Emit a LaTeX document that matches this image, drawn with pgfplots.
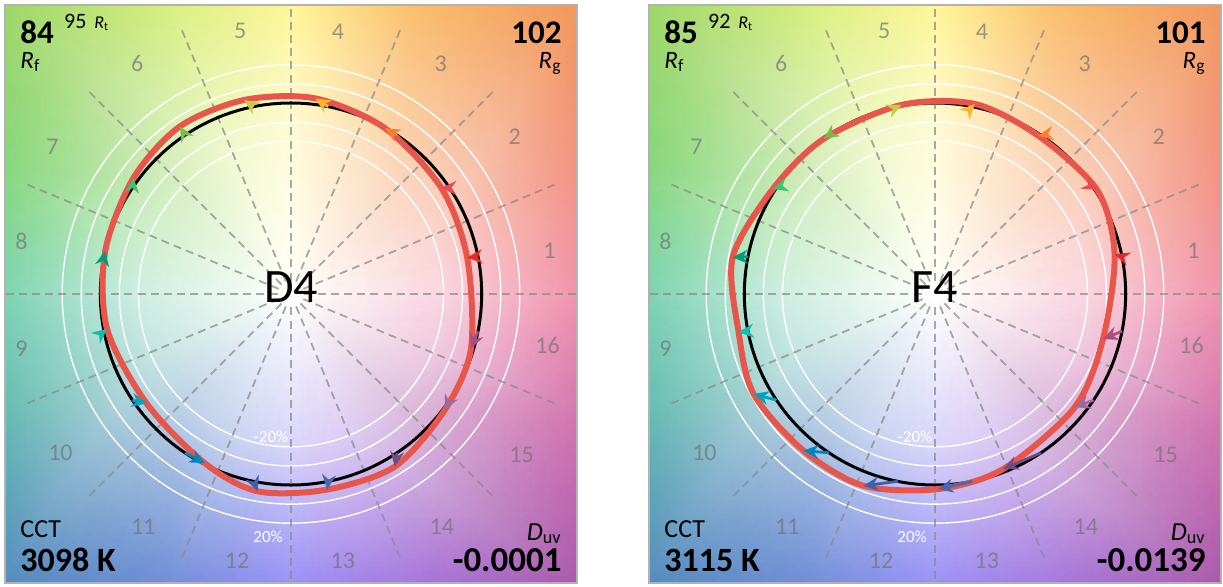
\documentclass[border=0pt]{standalone}
\usepackage{pgfplots}
\usepackage{pgfplotstable}
\pgfplotsset{compat=1.18}
\usetikzlibrary{arrows.meta}
\usepackage{fontspec}
\setmainfont{Carlito}

\definecolor{cw}{RGB}{255,255,252}
\definecolor{rb0}{RGB}{240,138,165}
\definecolor{rb1}{RGB}{242,138,122}
\definecolor{rb2}{RGB}{242,143,80}
\definecolor{rb3}{RGB}{250,188,100}
\definecolor{rb4}{RGB}{255,245,145}
\definecolor{rb5}{RGB}{215,238,120}
\definecolor{rb6}{RGB}{150,212,92}
\definecolor{rb7}{RGB}{125,212,118}
\definecolor{rb8}{RGB}{115,208,172}
\definecolor{rb9}{RGB}{90,182,172}
\definecolor{rb10}{RGB}{72,132,185}
\definecolor{rb11}{RGB}{105,135,215}
\definecolor{rb12}{RGB}{148,138,245}
\definecolor{rb13}{RGB}{160,112,220}
\definecolor{rb14}{RGB}{165,78,168}
\definecolor{rb15}{RGB}{210,108,170}
\colorlet{ra0}{rb0!36!white}
\colorlet{ra1}{rb1!36!white}
\colorlet{ra2}{rb2!36!white}
\colorlet{ra3}{rb3!36!white}
\colorlet{ra4}{rb4!36!white}
\colorlet{ra5}{rb5!36!white}
\colorlet{ra6}{rb6!36!white}
\colorlet{ra7}{rb7!36!white}
\colorlet{ra8}{rb8!36!white}
\colorlet{ra9}{rb9!36!white}
\colorlet{ra10}{rb10!36!white}
\colorlet{ra11}{rb11!36!white}
\colorlet{ra12}{rb12!36!white}
\colorlet{ra13}{rb13!36!white}
\colorlet{ra14}{rb14!36!white}
\colorlet{ra15}{rb15!36!white}

\definecolor{bin1}{HTML}{E62828}
\definecolor{bin2}{HTML}{E74B4B}
\definecolor{bin3}{HTML}{FB812E}
\definecolor{bin4}{HTML}{FFB529}
\definecolor{bin5}{HTML}{CBCA46}
\definecolor{bin6}{HTML}{7EB94C}
\definecolor{bin7}{HTML}{41C06D}
\definecolor{bin8}{HTML}{009C7C}
\definecolor{bin9}{HTML}{16BCB0}
\definecolor{bin10}{HTML}{00A4BF}
\definecolor{bin11}{HTML}{0085C3}
\definecolor{bin12}{HTML}{3B62AA}
\definecolor{bin13}{HTML}{4568AE}
\definecolor{bin14}{HTML}{6A4E85}
\definecolor{bin15}{HTML}{9D69A1}
\definecolor{bin16}{HTML}{A74F81}
\definecolor{testred}{RGB}{232,85,75}

\pgfplotstableread{
x y c
0 0 color=cw
0.8 0 color=ra0
0.7391 0.3061 color=ra1
0.8 0 color=ra0
0.7391 0.3061 color=ra1
1.6 0.6627 color=rb1
0.8 0 color=ra0
1.6 0.6627 color=rb1
1.6 0 color=rb0
0 0 color=cw
0.7391 0.3061 color=ra1
0.5657 0.5657 color=ra2
0.7391 0.3061 color=ra1
0.5657 0.5657 color=ra2
1.6 1.6 color=rb2
0.7391 0.3061 color=ra1
1.6 1.6 color=rb2
1.6 0.6627 color=rb1
0 0 color=cw
0.5657 0.5657 color=ra2
0.3061 0.7391 color=ra3
0.5657 0.5657 color=ra2
0.3061 0.7391 color=ra3
0.6627 1.6 color=rb3
0.5657 0.5657 color=ra2
0.6627 1.6 color=rb3
1.6 1.6 color=rb2
0 0 color=cw
0.3061 0.7391 color=ra3
0 0.8 color=ra4
0.3061 0.7391 color=ra3
0 0.8 color=ra4
0 1.6 color=rb4
0.3061 0.7391 color=ra3
0 1.6 color=rb4
0.6627 1.6 color=rb3
0 0 color=cw
0 0.8 color=ra4
-0.3061 0.7391 color=ra5
0 0.8 color=ra4
-0.3061 0.7391 color=ra5
-0.6627 1.6 color=rb5
0 0.8 color=ra4
-0.6627 1.6 color=rb5
0 1.6 color=rb4
0 0 color=cw
-0.3061 0.7391 color=ra5
-0.5657 0.5657 color=ra6
-0.3061 0.7391 color=ra5
-0.5657 0.5657 color=ra6
-1.6 1.6 color=rb6
-0.3061 0.7391 color=ra5
-1.6 1.6 color=rb6
-0.6627 1.6 color=rb5
0 0 color=cw
-0.5657 0.5657 color=ra6
-0.7391 0.3061 color=ra7
-0.5657 0.5657 color=ra6
-0.7391 0.3061 color=ra7
-1.6 0.6627 color=rb7
-0.5657 0.5657 color=ra6
-1.6 0.6627 color=rb7
-1.6 1.6 color=rb6
0 0 color=cw
-0.7391 0.3061 color=ra7
-0.8 0 color=ra8
-0.7391 0.3061 color=ra7
-0.8 0 color=ra8
-1.6 0 color=rb8
-0.7391 0.3061 color=ra7
-1.6 0 color=rb8
-1.6 0.6627 color=rb7
0 0 color=cw
-0.8 0 color=ra8
-0.7391 -0.3061 color=ra9
-0.8 0 color=ra8
-0.7391 -0.3061 color=ra9
-1.6 -0.6627 color=rb9
-0.8 0 color=ra8
-1.6 -0.6627 color=rb9
-1.6 0 color=rb8
0 0 color=cw
-0.7391 -0.3061 color=ra9
-0.5657 -0.5657 color=ra10
-0.7391 -0.3061 color=ra9
-0.5657 -0.5657 color=ra10
-1.6 -1.6 color=rb10
-0.7391 -0.3061 color=ra9
-1.6 -1.6 color=rb10
-1.6 -0.6627 color=rb9
0 0 color=cw
-0.5657 -0.5657 color=ra10
-0.3061 -0.7391 color=ra11
-0.5657 -0.5657 color=ra10
-0.3061 -0.7391 color=ra11
-0.6627 -1.6 color=rb11
-0.5657 -0.5657 color=ra10
-0.6627 -1.6 color=rb11
-1.6 -1.6 color=rb10
0 0 color=cw
-0.3061 -0.7391 color=ra11
0 -0.8 color=ra12
-0.3061 -0.7391 color=ra11
0 -0.8 color=ra12
0 -1.6 color=rb12
-0.3061 -0.7391 color=ra11
0 -1.6 color=rb12
-0.6627 -1.6 color=rb11
0 0 color=cw
0 -0.8 color=ra12
0.3061 -0.7391 color=ra13
0 -0.8 color=ra12
0.3061 -0.7391 color=ra13
0.6627 -1.6 color=rb13
0 -0.8 color=ra12
0.6627 -1.6 color=rb13
0 -1.6 color=rb12
0 0 color=cw
0.3061 -0.7391 color=ra13
0.5657 -0.5657 color=ra14
0.3061 -0.7391 color=ra13
0.5657 -0.5657 color=ra14
1.6 -1.6 color=rb14
0.3061 -0.7391 color=ra13
1.6 -1.6 color=rb14
0.6627 -1.6 color=rb13
0 0 color=cw
0.5657 -0.5657 color=ra14
0.7391 -0.3061 color=ra15
0.5657 -0.5657 color=ra14
0.7391 -0.3061 color=ra15
1.6 -0.6627 color=rb15
0.5657 -0.5657 color=ra14
1.6 -0.6627 color=rb15
1.6 -1.6 color=rb14
0 0 color=cw
0.7391 -0.3061 color=ra15
0.8 0 color=ra0
0.7391 -0.3061 color=ra15
0.8 0 color=ra0
1.6 0 color=rb0
0.7391 -0.3061 color=ra15
1.6 0 color=rb0
1.6 -0.6627 color=rb15
}\bgtable

\pgfplotsset{
  tmpanel/.style={
    scale only axis, width=286pt, height=289pt,
    xmin=-1.5, xmax=1.5, ymin=-1.513, ymax=1.513,
    ticks=none, axis line style={draw=black!30, line width=0.6pt},
    axis on top, anchor=center,
  },
}
\tikzset{
  binlbl/.style={text=black!55, text opacity=0.7, font={\fontsize{12}{12}\selectfont}},
  pct/.style={text=white, font={\fontsize{8.5}{9}\selectfont}},
  ct/.style={inner sep=0pt, outer sep=0pt},
}

\newcommand{\panelbase}{%
  \addplot[patch, shader=interp, mesh/color input=explicit] table[meta=c] {\bgtable};
  \draw[white, line width=0.7pt] (axis cs:0,0) circle[radius=0.8];
  \draw[white, line width=0.7pt] (axis cs:0,0) circle[radius=0.9];
  \draw[white, line width=0.7pt] (axis cs:0,0) circle[radius=1.1];
  \draw[white, line width=0.7pt] (axis cs:0,0) circle[radius=1.2];
  \pgfplotsinvokeforeach{0,...,15}{%
    \draw[black!45, opacity=0.75, line width=0.9pt, dash pattern=on 4pt off 2.6pt]
      (axis cs:{0.07*cos(22.5*##1)},{0.07*sin(22.5*##1)}) -- (axis cs:{1.5*cos(22.5*##1)},{1.5*sin(22.5*##1)});
  }
  \node[binlbl] at (axis cs:1.356,0.225) {1};
  \node[binlbl] at (axis cs:1.173,0.822) {2};
  \node[binlbl] at (axis cs:0.785,1.204) {3};
  \node[binlbl] at (axis cs:0.246,1.372) {4};
  \node[binlbl] at (axis cs:-0.267,1.377) {5};
  \node[binlbl] at (axis cs:-0.806,1.209) {6};
  \node[binlbl] at (axis cs:-1.251,0.770) {7};
  \node[binlbl] at (axis cs:-1.414,0.277) {8};
  \node[binlbl] at (axis cs:-1.414,-0.288) {9};
  \node[binlbl] at (axis cs:-1.209,-0.832) {10};
  \node[binlbl] at (axis cs:-0.775,-1.220) {11};
  \node[binlbl] at (axis cs:-0.283,-1.398) {12};
  \node[binlbl] at (axis cs:0.272,-1.398) {13};
  \node[binlbl] at (axis cs:0.791,-1.220) {14};
  \node[binlbl] at (axis cs:1.209,-0.843) {15};
  \node[binlbl] at (axis cs:1.346,-0.267) {16};
  \node[pct] at (axis cs:-0.105,-0.749) {-20\%};
  \node[pct] at (axis cs:-0.12,-1.272) {20\%};
  \draw[black, line width=1.5pt] (axis cs:0,0) circle[radius=1];
}

\newcommand{\binarrow}[5]{%
  \addplot[draw=#1, line width=1.4pt, -{Stealth[length=7.5pt,width=7pt]}] coordinates {(#2,#3) (#4,#5)};%
}

\newcommand{\cornertext}[6]{%
  \node[ct, anchor=base west, font={\fontsize{16.5}{17}\selectfont\bfseries}] at (axis cs:-1.419,1.314) {#1};
  \node[ct, anchor=base west, font={\fontsize{11}{11}\selectfont}] at (axis cs:-1.19,1.388) {#2\hspace{4pt}{\fontsize{9}{9}\selectfont\textit{R}\textsubscript{t}}};
  \node[ct, anchor=base west, font={\fontsize{12.5}{13}\selectfont}] at (axis cs:-1.419,1.183) {\textit{R}\textsubscript{f}};
  \node[ct, anchor=base east, font={\fontsize{16.5}{17}\selectfont\bfseries}] at (axis cs:1.419,1.314) {#3};
  \node[ct, anchor=base east, font={\fontsize{12.5}{13}\selectfont}] at (axis cs:1.419,1.183) {\textit{R}\textsubscript{g}};
  \node[ct, anchor=base west, font={\fontsize{13}{13}\selectfont}] at (axis cs:-1.419,-1.277) {CCT};
  \node[ct, anchor=base west, font={\fontsize{17}{17}\selectfont\bfseries}] at (axis cs:-1.419,-1.455) {#4};
  \node[ct, anchor=base east, font={\fontsize{13}{13}\selectfont}] at (axis cs:1.419,-1.288) {\textit{D}\textsubscript{uv}};
  \node[ct, anchor=base east, font={\fontsize{17.5}{18}\selectfont\bfseries}] at (axis cs:1.419,-1.455) {#5};
  \node[ct, anchor=base, font={\fontsize{24}{24}\selectfont}] at (axis cs:0,-0.047) {#6};
}

\begin{document}
\begin{tikzpicture}
\path[use as bounding box] (0,0) rectangle (611.5pt,293pt);

% ---------------- D4 ----------------
\begin{axis}[tmpanel, at={(145.5pt,146pt)}]
\panelbase
\addplot[draw=testred, line width=3pt, smooth cycle, line join=round] coordinates {
(0.924,0.191) (0.788,0.556) (0.493,0.868) (0.128,1.024)
(-0.245,1.016) (-0.583,0.877) (-0.826,0.608) (-0.974,0.226)
(-0.965,-0.182) (-0.757,-0.573) (-0.453,-0.885) (-0.175,-1.033)
(0.189,-1.024) (0.545,-0.903) (0.806,-0.608) (0.944,-0.286)
};
\binarrow{bin1}{0.9808}{0.1951}{0.924}{0.191}
\binarrow{bin2}{0.8315}{0.5556}{0.788}{0.556}
\binarrow{bin3}{0.5556}{0.8315}{0.493}{0.868}
\binarrow{bin4}{0.1951}{0.9808}{0.128}{1.024}
\binarrow{bin5}{-0.1951}{0.9808}{-0.245}{1.016}
\binarrow{bin6}{-0.5556}{0.8315}{-0.583}{0.877}
\binarrow{bin7}{-0.8315}{0.5556}{-0.826}{0.608}
\binarrow{bin8}{-0.9808}{0.1951}{-0.974}{0.226}
\binarrow{bin9}{-0.9808}{-0.1951}{-0.965}{-0.182}
\binarrow{bin10}{-0.8315}{-0.5556}{-0.757}{-0.573}
\binarrow{bin11}{-0.5556}{-0.8315}{-0.453}{-0.885}
\binarrow{bin12}{-0.1951}{-0.9808}{-0.175}{-1.033}
\binarrow{bin13}{0.1951}{-0.9808}{0.189}{-1.024}
\binarrow{bin14}{0.5556}{-0.8315}{0.545}{-0.903}
\binarrow{bin15}{0.8315}{-0.5556}{0.806}{-0.608}
\binarrow{bin16}{0.9808}{-0.1951}{0.944}{-0.286}
\cornertext{84}{95}{102}{3098 K}{-0.0001}{D4}
\end{axis}

% ---------------- F4 ----------------
\begin{axis}[tmpanel, at={(467.5pt,146pt)}]
\panelbase
\addplot[draw=testred, line width=3pt, smooth cycle, line join=round] coordinates {
(0.942,0.209) (0.85,0.545) (0.541,0.829) (0.209,0.995)
(-0.175,0.99) (-0.584,0.812) (-0.85,0.55) (-1.061,0.192)
(-1.03,-0.2) (-0.951,-0.524) (-0.69,-0.82) (-0.375,-1.004)
(0.017,-1.021) (0.358,-0.916) (0.733,-0.593) (0.881,-0.236)
};
\binarrow{bin1}{0.9808}{0.1951}{0.942}{0.209}
\binarrow{bin2}{0.8315}{0.5556}{0.85}{0.545}
\binarrow{bin3}{0.5556}{0.8315}{0.541}{0.829}
\binarrow{bin4}{0.1951}{0.9808}{0.209}{0.995}
\binarrow{bin5}{-0.1951}{0.9808}{-0.175}{0.99}
\binarrow{bin6}{-0.5556}{0.8315}{-0.584}{0.812}
\binarrow{bin7}{-0.8315}{0.5556}{-0.85}{0.55}
\binarrow{bin8}{-0.9808}{0.1951}{-1.061}{0.192}
\binarrow{bin9}{-0.9808}{-0.1951}{-1.03}{-0.2}
\binarrow{bin10}{-0.8315}{-0.5556}{-0.951}{-0.524}
\binarrow{bin11}{-0.5556}{-0.8315}{-0.69}{-0.82}
\binarrow{bin12}{-0.1951}{-0.9808}{-0.375}{-1.004}
\binarrow{bin13}{0.1951}{-0.9808}{0.017}{-1.021}
\binarrow{bin14}{0.5556}{-0.8315}{0.358}{-0.916}
\binarrow{bin15}{0.8315}{-0.5556}{0.733}{-0.593}
\binarrow{bin16}{0.9808}{-0.1951}{0.881}{-0.236}
\cornertext{85}{92}{101}{3115 K}{-0.0139}{F4}
\end{axis}
\end{tikzpicture}
\end{document}
